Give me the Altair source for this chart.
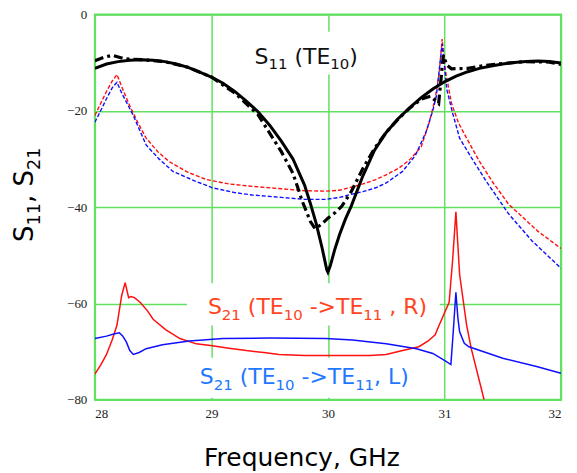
import altair as alt
import pandas as pd

# ---------------- data ----------------
s11_solid_f = [28.0, 28.1, 28.2, 28.3, 28.4, 28.5, 28.6, 28.7, 28.8, 28.9, 29.0, 29.1, 29.2, 29.3,
               29.4, 29.5, 29.6, 29.7, 29.8, 29.85, 29.9, 29.95, 29.99, 30.0, 30.02, 30.06, 30.1,
               30.15, 30.2, 30.3, 30.4, 30.5, 30.6, 30.7, 30.8, 30.9, 31.0, 31.1, 31.2, 31.3, 31.4,
               31.5, 31.6, 31.7, 31.8, 31.9, 32.0]
s11_solid_v = [-11.2, -10.3, -9.8, -9.5, -9.4, -9.5, -9.8, -10.3, -11.0, -12.0, -13.0, -14.3, -16.0,
               -18.0, -20.2, -23.0, -26.3, -30.0, -35.5, -39.3, -43.5, -48.5, -53.0, -53.5, -52.2,
               -48.7, -45.7, -42.5, -39.8, -33.5, -28.2, -24.5, -21.7, -19.4, -17.3, -15.5, -14.0,
               -12.8, -11.9, -11.2, -10.7, -10.3, -10.0, -9.8, -9.7, -9.8, -10.1]

s11_dash_f = [28.0, 28.08, 28.15, 28.25, 28.4, 28.6, 28.8, 29.0, 29.2, 29.4, 29.6, 29.7, 29.78, 29.85,
              29.89, 29.95, 30.0, 30.06, 30.12, 30.2, 30.3, 30.4, 30.5, 30.6, 30.7, 30.8, 30.88, 30.95,
              30.99, 31.02, 31.06, 31.2, 31.35, 31.5, 31.7, 31.9, 32.0]
s11_dash_v = [-9.6, -8.9, -8.5, -9.2, -9.4, -9.8, -11.0, -13.0, -16.3, -20.8, -28.5, -33.0, -38.8,
              -43.0, -44.5, -43.5, -42.3, -41.2, -39.8, -36.8, -32.0, -27.8, -24.5, -21.8, -19.5,
              -17.6, -17.0, -18.5, -8.5, -10.5, -11.3, -11.2, -10.6, -10.2, -9.8, -9.9, -10.4]

s11_r_f = [28.0, 28.05, 28.1, 28.15, 28.19, 28.23, 28.3, 28.37, 28.44, 28.54, 28.64, 28.8, 28.96,
           29.15, 29.35, 29.6, 29.8, 29.98, 30.1, 30.18, 30.3, 30.41, 30.5, 30.61, 30.7, 30.8, 30.87,
           30.92, 30.955, 30.98, 31.01, 31.06, 31.12, 31.19, 31.3, 31.41, 31.55, 31.64, 31.8, 32.0]
s11_r_v = [-21.0, -18.5, -16.0, -13.8, -12.5, -15.0, -19.0, -22.5, -25.7, -28.5, -30.6, -32.8, -34.3,
           -35.2, -35.7, -36.2, -36.6, -36.7, -36.5, -36.0, -35.2, -34.3, -33.3, -31.9, -30.2, -27.5,
           -22.4, -17.5, -12.2, -5.1, -12.0, -18.4, -22.5, -25.7, -30.5, -34.7, -39.4, -41.4, -45.0,
           -48.6]

s11_l_f = [28.0, 28.05, 28.1, 28.15, 28.19, 28.23, 28.33, 28.44, 28.55, 28.67, 28.85, 29.01, 29.2,
           29.35, 29.6, 29.8, 29.98, 30.1, 30.21, 30.3, 30.41, 30.5, 30.64, 30.75, 30.84, 30.9, 30.93,
           30.98, 31.02, 31.07, 31.13, 31.25, 31.36, 31.55, 31.75, 32.0]
s11_l_v = [-22.4, -20.0, -17.5, -15.2, -14.1, -16.3, -21.0, -27.1, -30.0, -32.6, -34.5, -36.0, -37.0,
           -37.5, -38.0, -38.4, -38.4, -38.0, -37.3, -36.8, -36.0, -35.0, -32.6, -29.3, -24.5, -20.0,
           -17.0, -6.1, -15.6, -20.5, -25.7, -30.5, -34.7, -41.4, -47.0, -52.7]

s21_r_f = [28.0, 28.05, 28.10, 28.15, 28.19, 28.23, 28.26, 28.29, 28.31, 28.34, 28.39, 28.45, 28.5,
           28.61, 28.73, 28.87, 29.01, 29.15, 29.3, 29.45, 29.58, 29.8, 29.98, 30.2, 30.36, 30.5,
           30.64, 30.78, 30.86, 30.92, 30.955, 31.04, 31.07, 31.098, 31.13, 31.19, 31.23, 31.34]
s21_r_v = [-74.7, -72.8, -70.6, -67.5, -64.5, -58.4, -55.7, -58.8, -58.6, -58.8, -59.8, -61.5, -63.3,
           -65.5, -67.3, -68.4, -68.8, -69.3, -69.8, -70.2, -70.6, -70.8, -70.8, -70.8, -70.8, -70.6,
           -69.8, -69.0, -67.8, -66.5, -64.5, -59.8, -51.0, -41.0, -54.0, -64.5, -69.4, -80.0]

s21_l_f = [28.0, 28.1, 28.17, 28.21, 28.24, 28.27, 28.3, 28.33, 28.38, 28.44, 28.58, 28.81, 29.1,
           29.5, 29.98, 30.21, 30.5, 30.76, 30.9, 31.01, 31.055, 31.075, 31.098, 31.115, 31.13,
           31.17, 31.21, 31.33, 31.5, 31.79, 32.0]
s21_l_v = [-67.3, -66.8, -66.3, -66.1, -66.8, -68.0, -69.8, -70.6, -70.2, -69.4, -68.6, -67.8, -67.3,
           -67.2, -67.3, -67.6, -68.4, -69.4, -70.4, -72.0, -72.7, -66.0, -57.7, -63.0, -65.9,
           -68.3, -69.0, -70.0, -71.4, -73.1, -74.5]

x_ticks = [28, 29, 30, 31, 32]
y_ticks = [0, -20, -40, -60, -80]

# label texts: pieces of (text, is_subscript)
label_pieces = [
    [("S", 0), ("11", 1), (" (TE", 0), ("10", 1), (")", 0)],
    [("S", 0), ("21", 1), (" (TE", 0), ("10", 1), (" ->TE", 0), ("11", 1), (" , R)", 0)],
    [("S", 0), ("21", 1), (" (TE", 0), ("10", 1), (" ->TE", 0), ("11", 1), (", L)", 0)],
]
label_colors = ["#111111", "#ff4422", "#2277ff"]
label_f = [29.37, 28.97, 28.90]      # left edge of each label
label_v = [-10.2, -62.2, -76.7]      # baseline of each label
ytitle_pieces = [("S", 0), ("11", 1), (", S", 0), ("21", 1)]

# white boxes behind the labels (they interrupt the grid as in the reference)
box_f1 = [29.40, 28.79, 28.85]
box_f2 = [30.20, 30.96, 30.97]
box_v1 = [-3.6, -55.8, -71.3]
box_v2 = [-12.5, -64.6, -79.6]

GREEN = "#62e062"
FONT = "DejaVu Sans"

# DejaVu Sans advance widths (em) used to lay out the label pieces
ADV = {"S": 0.635, " ": 0.318, "(": 0.390, ")": 0.390, "T": 0.611, "E": 0.632, "-": 0.361,
       ">": 0.838, ",": 0.318, "R": 0.695, "L": 0.557}
for d in "0123456789":
    ADV[d] = 0.636


def width(s, size):
    return sum(ADV.get(ch, 0.6) for ch in s) * size


xs = alt.Scale(domain=[28, 32], nice=False, zero=False)
ys = alt.Scale(domain=[-80, 0], nice=False, zero=False)

xax = alt.Axis(values=x_ticks, format="d", title="Frequency, GHz", titleFont=FONT,
               titleFontSize=25, titleFontWeight="normal", titleColor="black", titleX=207,
               titleY=58, titleAlign="center", titleBaseline="middle",
               labelFont="Liberation Serif", labelFontSize=13, labelColor="#222", labelPadding=8,
               ticks=False, domain=False, grid=True, gridColor=GREEN, gridWidth=1.5)
yax = alt.Axis(values=y_ticks, title=None, labelFont="Liberation Serif", labelFontSize=13,
               labelColor="#222", labelPadding=8, ticks=False, domain=False, grid=True,
               gridColor=GREEN, gridWidth=1.5)

boxes = alt.Chart(pd.DataFrame({"f1": box_f1, "f2": box_f2, "v1": box_v1, "v2": box_v2})).mark_rect(
    color="white").encode(
    x=alt.X("f1:Q", scale=xs, axis=xax), x2="f2:Q",
    y=alt.Y("v1:Q", scale=ys, axis=yax), y2="v2:Q")


def line(f, v, color, w, dash=None):
    kw = dict(color=color, strokeWidth=w, clip=True, interpolate="linear")
    if dash:
        kw["strokeDash"] = dash
    return alt.Chart(pd.DataFrame({"f": f, "v": v})).mark_line(**kw).encode(
        x=alt.X("f:Q", scale=xs), y=alt.Y("v:Q", scale=ys))


lines = [
    line(s21_r_f, s21_r_v, "#ff1010", 1.5),
    line(s21_l_f, s21_l_v, "#1010ff", 1.5),
    line(s11_r_f, s11_r_v, "#ff1010", 1.4, [4, 2]),
    line(s11_l_f, s11_l_v, "#1010ff", 1.4, [4, 2]),
    line(s11_dash_f, s11_dash_v, "black", 3.2, [9, 4, 3, 4]),
    line(s11_solid_f, s11_solid_v, "black", 3.0),
]


def piece_marks(pieces, size, color, pos, angle=0):
    marks = []
    off = 0.0
    for text, sub in pieces:
        s = size * 0.68 if sub else size
        lead = len(text) - len(text.lstrip(" "))
        shown = text.lstrip(" ")
        dx = off + width(" " * lead, s)
        m = alt.Chart(pd.DataFrame({"t": [shown]})).mark_text(
            font=FONT, fontSize=s, color=color, align="left", baseline="alphabetic",
            dx=dx, dy=size * 0.27 if sub else 0, angle=angle).encode(text="t:N", **pos)
        marks.append(m)
        off += width(text, s)
    return marks


text_marks = []
for pieces, col, f0, v0 in zip(label_pieces, label_colors, label_f, label_v):
    text_marks += piece_marks(pieces, 22, col,
                              dict(x=alt.datum(f0, scale=xs), y=alt.datum(v0, scale=ys)))
# rotated y-axis title, placed left of the tick labels
text_marks += piece_marks(ytitle_pieces, 26, "black",
                          dict(x=alt.value(-62), y=alt.value(228)), angle=270)

chart = alt.layer(boxes, *lines, *text_marks).properties(
    width=467, height=386,
    padding={"left": 87, "top": 6, "right": 8, "bottom": 73},
    autosize=alt.AutoSizeParams(type="none"),
).configure_view(stroke=GREEN, strokeWidth=2)

chart.save("out.html", embed_options={"renderer": "svg", "actions": False})
